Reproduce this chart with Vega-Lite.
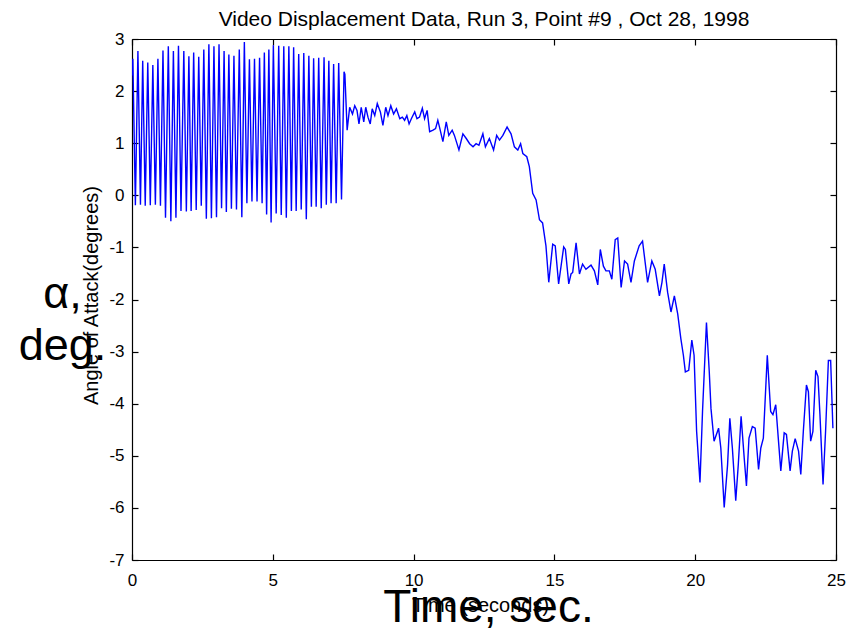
{
  "$schema": "https://vega.github.io/schema/vega-lite/v6.json",
  "width": 704,
  "height": 521,
  "autosize": "none",
  "padding": {"left": 132, "top": 39, "right": 15, "bottom": 73},
  "background": "white",
  "config": {"view": {"stroke": null}},
  "title": {"text": "Video Displacement Data, Run 3, Point #9 , Oct 28, 1998", "font": "Liberation Sans", "fontSize": 21, "fontWeight": "normal", "color": "black", "anchor": "middle", "offset": 0},
  "data": {"values": [
    {"t":0,"a":2.30},{"t":0.03,"a":2.62},{"t":0.12,"a":-0.19},{"t":0.21,"a":2.77},{"t":0.30,"a":-0.18},{"t":0.38,"a":2.58},{"t":0.47,"a":-0.20},{"t":0.56,"a":2.55},{"t":0.65,"a":-0.19},{"t":0.74,"a":2.50},{"t":0.83,"a":-0.18},{"t":0.92,"a":2.62},{"t":1.01,"a":-0.20},{"t":1.10,"a":2.78},{"t":1.19,"a":-0.43},{"t":1.29,"a":2.86},{"t":1.38,"a":-0.50},{"t":1.47,"a":2.77},{"t":1.56,"a":-0.43},{"t":1.65,"a":2.87},{"t":1.74,"a":-0.30},{"t":1.84,"a":2.77},{"t":1.93,"a":-0.31},{"t":2.02,"a":2.67},{"t":2.10,"a":-0.30},{"t":2.19,"a":2.74},{"t":2.28,"a":-0.28},{"t":2.37,"a":2.66},{"t":2.46,"a":-0.20},{"t":2.55,"a":2.80},{"t":2.64,"a":-0.45},{"t":2.73,"a":2.90},{"t":2.82,"a":-0.44},{"t":2.91,"a":2.86},{"t":3.00,"a":-0.42},{"t":3.09,"a":2.90},{"t":3.18,"a":-0.25},{"t":3.27,"a":2.77},{"t":3.35,"a":-0.32},{"t":3.44,"a":2.70},{"t":3.53,"a":-0.26},{"t":3.62,"a":2.68},{"t":3.71,"a":-0.27},{"t":3.81,"a":2.80},{"t":3.90,"a":-0.42},{"t":3.99,"a":2.94},{"t":4.08,"a":-0.15},{"t":4.17,"a":2.61},{"t":4.26,"a":-0.12},{"t":4.35,"a":2.62},{"t":4.44,"a":-0.12},{"t":4.53,"a":2.64},{"t":4.62,"a":-0.15},{"t":4.70,"a":2.74},{"t":4.78,"a":-0.37},{"t":4.86,"a":2.80},{"t":4.94,"a":-0.52},{"t":5.02,"a":2.88},{"t":5.12,"a":-0.35},{"t":5.21,"a":2.87},{"t":5.30,"a":-0.38},{"t":5.39,"a":2.86},{"t":5.48,"a":-0.43},{"t":5.57,"a":2.86},{"t":5.66,"a":-0.30},{"t":5.74,"a":2.84},{"t":5.83,"a":-0.30},{"t":5.92,"a":2.71},{"t":6.01,"a":-0.27},{"t":6.10,"a":2.73},{"t":6.19,"a":-0.46},{"t":6.28,"a":2.68},{"t":6.37,"a":-0.22},{"t":6.45,"a":2.63},{"t":6.54,"a":-0.22},{"t":6.63,"a":2.64},{"t":6.72,"a":-0.25},{"t":6.82,"a":2.65},{"t":6.90,"a":-0.18},{"t":6.99,"a":2.58},{"t":7.07,"a":-0.15},{"t":7.16,"a":2.52},{"t":7.25,"a":-0.15},{"t":7.34,"a":2.54},{"t":7.44,"a":-0.08},{"t":7.53,"a":2.37},{"t":7.56,"a":2.32},{"t":7.64,"a":1.25},
    {"t":7.73,"a":1.69},{"t":7.83,"a":1.56},{"t":7.91,"a":1.72},{"t":7.99,"a":1.63},{"t":8.06,"a":1.37},{"t":8.14,"a":1.69},{"t":8.23,"a":1.41},{"t":8.30,"a":1.69},{"t":8.38,"a":1.50},{"t":8.46,"a":1.37},{"t":8.53,"a":1.66},{"t":8.62,"a":1.53},{"t":8.71,"a":1.76},{"t":8.82,"a":1.60},{"t":8.91,"a":1.34},{"t":9.01,"a":1.69},{"t":9.09,"a":1.53},{"t":9.19,"a":1.72},{"t":9.29,"a":1.56},{"t":9.39,"a":1.66},{"t":9.51,"a":1.47},{"t":9.60,"a":1.50},{"t":9.68,"a":1.44},{"t":9.76,"a":1.53},{"t":9.84,"a":1.37},{"t":9.92,"a":1.47},{"t":10.04,"a":1.60},{"t":10.12,"a":1.47},{"t":10.21,"a":1.50},{"t":10.31,"a":1.67},{"t":10.39,"a":1.47},{"t":10.48,"a":1.63},{"t":10.57,"a":1.22},{"t":10.69,"a":1.25},{"t":10.78,"a":1.28},{"t":10.86,"a":1.44},{"t":10.92,"a":1.31},{"t":11.04,"a":1.03},{"t":11.16,"a":1.41},{"t":11.25,"a":1.15},{"t":11.37,"a":1.25},{"t":11.45,"a":1.15},{"t":11.61,"a":0.87},{"t":11.75,"a":1.18},{"t":11.87,"a":1.09},{"t":11.99,"a":0.99},{"t":12.11,"a":0.93},{"t":12.22,"a":0.99},{"t":12.32,"a":0.96},{"t":12.46,"a":1.18},{"t":12.55,"a":0.93},{"t":12.69,"a":1.09},{"t":12.84,"a":0.87},{"t":12.95,"a":1.15},{"t":13.05,"a":1.06},{"t":13.17,"a":1.15},{"t":13.32,"a":1.31},{"t":13.46,"a":1.18},{"t":13.58,"a":0.93},{"t":13.70,"a":0.87},{"t":13.80,"a":0.99},{"t":13.88,"a":0.80},{"t":14.02,"a":0.74},{"t":14.11,"a":0.55},{"t":14.23,"a":0.04},
    {"t":14.35,"a":-0.09},{"t":14.47,"a":-0.47},{"t":14.58,"a":-0.53},{"t":14.70,"a":-0.97},{"t":14.80,"a":-1.67},{"t":14.94,"a":-0.94},{"t":15.03,"a":-0.97},{"t":15.15,"a":-1.70},{"t":15.33,"a":-0.99},{"t":15.39,"a":-1.04},{"t":15.51,"a":-1.70},{"t":15.59,"a":-1.51},{"t":15.65,"a":-1.48},{"t":15.77,"a":-0.91},{"t":15.89,"a":-1.51},{"t":16.00,"a":-1.32},{"t":16.12,"a":-1.42},{"t":16.30,"a":-1.34},{"t":16.42,"a":-1.45},{"t":16.54,"a":-1.72},{"t":16.63,"a":-1.04},{"t":16.74,"a":-1.36},{"t":16.83,"a":-1.45},{"t":16.95,"a":-1.45},{"t":17.04,"a":-1.61},{"t":17.16,"a":-0.85},{"t":17.25,"a":-0.82},{"t":17.37,"a":-1.77},{"t":17.49,"a":-1.26},{"t":17.60,"a":-1.32},{"t":17.72,"a":-1.67},{"t":17.84,"a":-1.26},{"t":18.01,"a":-0.97},{"t":18.13,"a":-0.88},{"t":18.31,"a":-1.67},{"t":18.46,"a":-1.26},{"t":18.58,"a":-1.42},{"t":18.73,"a":-1.93},{"t":18.82,"a":-1.67},{"t":18.90,"a":-1.32},{"t":19.02,"a":-1.86},{"t":19.14,"a":-2.24},{"t":19.26,"a":-1.93},{"t":19.38,"a":-2.28},{"t":19.49,"a":-2.75},{"t":19.58,"a":-3.07},{"t":19.65,"a":-3.39},{"t":19.77,"a":-3.36},{"t":19.88,"a":-2.78},{"t":19.96,"a":-3.07},{"t":20.05,"a":-4.53},{"t":20.17,"a":-5.51},{"t":20.26,"a":-4.15},{"t":20.40,"a":-2.44},{"t":20.50,"a":-3.39},{"t":20.56,"a":-4.09},{"t":20.67,"a":-4.72},{"t":20.83,"a":-4.47},{"t":20.91,"a":-4.85},{"t":21.03,"a":-5.99},{"t":21.15,"a":-5.17},{"t":21.23,"a":-4.28},{"t":21.32,"a":-4.85},{"t":21.44,"a":-5.86},{"t":21.53,"a":-5.17},{"t":21.63,"a":-4.24},{"t":21.74,"a":-5.04},{"t":21.82,"a":-5.58},{"t":21.91,"a":-4.66},{"t":22.03,"a":-4.44},{"t":22.13,"a":-4.47},{"t":22.25,"a":-5.26},{"t":22.33,"a":-4.85},{"t":22.42,"a":-4.66},{"t":22.56,"a":-3.07},{"t":22.68,"a":-4.15},{"t":22.76,"a":-4.21},{"t":22.86,"a":-4.02},{"t":22.95,"a":-4.66},{"t":23.04,"a":-5.29},{"t":23.16,"a":-4.56},{"t":23.24,"a":-4.59},{"t":23.37,"a":-5.29},{"t":23.45,"a":-4.91},{"t":23.55,"a":-4.67},{"t":23.67,"a":-4.91},{"t":23.75,"a":-5.36},{"t":23.84,"a":-4.53},{"t":23.95,"a":-3.64},{"t":24.02,"a":-3.77},{"t":24.10,"a":-4.72},{"t":24.18,"a":-4.53},{"t":24.28,"a":-3.36},{"t":24.36,"a":-3.48},{"t":24.43,"a":-4.21},{"t":24.54,"a":-5.55},{"t":24.63,"a":-4.53},{"t":24.73,"a":-3.17},{"t":24.81,"a":-3.17},{"t":24.89,"a":-4.47}
  ]},
  "layer": [
    {
      "mark": {"type": "line", "color": "#0000ff", "strokeWidth": 1.4, "clip": true},
      "encoding": {
        "x": {"field": "t", "type": "quantitative", "scale": {"domain": [0, 25], "nice": false, "zero": false},
          "axis": {"orient": "bottom", "values": [0, 5, 10, 15, 20, 25], "labelExpr": "'' + datum.value", "grid": false,
            "domainColor": "black", "domainWidth": 1.2, "tickColor": "black", "tickSize": -6, "tickWidth": 1.2,
            "labelFont": "Liberation Sans", "labelFontSize": 17, "labelColor": "black", "labelPadding": 18, "labelFlush": false, "labelOverlap": false,
            "title": "Time (seconds)", "titleFont": "Liberation Sans", "titleFontSize": 20, "titleFontWeight": "normal", "titleColor": "black",
            "titleX": 348, "titleY": 51, "titleBaseline": "alphabetic", "titleAlign": "center"}},
        "y": {"field": "a", "type": "quantitative", "scale": {"domain": [-7, 3], "nice": false, "zero": false},
          "axis": {"orient": "left", "values": [-7, -6, -5, -4, -3, -2, -1, 0, 1, 2, 3], "labelExpr": "'' + datum.value", "grid": false,
            "domainColor": "black", "domainWidth": 1.2, "tickColor": "black", "tickSize": -6, "tickWidth": 1.2,
            "labelFont": "Liberation Sans", "labelFontSize": 17, "labelColor": "black", "labelPadding": 14, "labelFlush": false, "labelOverlap": false,
            "title": "Angle of Attack(degrees)", "titleFont": "Liberation Sans", "titleFontSize": 20, "titleFontWeight": "normal", "titleColor": "black",
            "titleX": -35, "titleY": 256, "titleAngle": -90, "titleBaseline": "alphabetic", "titleAlign": "center"}}
      }
    },
    {
      "mark": {"type": "line", "strokeOpacity": 0},
      "encoding": {
        "x": {"field": "t", "type": "quantitative",
          "axis": {"orient": "top", "values": [0, 5, 10, 15, 20, 25], "labels": false, "title": null, "grid": false,
            "domainColor": "black", "domainWidth": 1.2, "tickColor": "black", "tickSize": -6, "tickWidth": 1.2}},
        "y": {"field": "a", "type": "quantitative",
          "axis": {"orient": "right", "values": [-7, -6, -5, -4, -3, -2, -1, 0, 1, 2, 3], "labels": false, "title": null, "grid": false,
            "domainColor": "black", "domainWidth": 1.2, "tickColor": "black", "tickSize": -6, "tickWidth": 1.2}}
      }
    },
    {
      "mark": {"type": "line", "strokeOpacity": 0},
      "encoding": {
        "x": {"field": "t", "type": "quantitative",
          "axis": {"orient": "bottom", "labels": false, "ticks": false, "domain": false, "grid": false,
            "title": "Time, sec.", "titleFont": "Liberation Sans", "titleFontSize": 46, "titleFontWeight": "normal", "titleColor": "black",
            "titleX": 356, "titleY": 61, "titleBaseline": "alphabetic", "titleAlign": "center"}},
        "y": {"field": "a", "type": "quantitative",
          "axis": {"orient": "left", "labels": false, "ticks": false, "domain": false, "grid": false,
            "title": ["α,", "deg."], "titleFont": "Liberation Sans", "titleFontSize": 45, "titleFontWeight": "normal", "titleColor": "black",
            "titleX": -70, "titleY": 268, "titleAngle": 0, "titleBaseline": "alphabetic", "titleAlign": "center", "titleLineHeight": 52}}
      }
    }
  ],
  "resolve": {"axis": {"x": "independent", "y": "independent"}}
}
